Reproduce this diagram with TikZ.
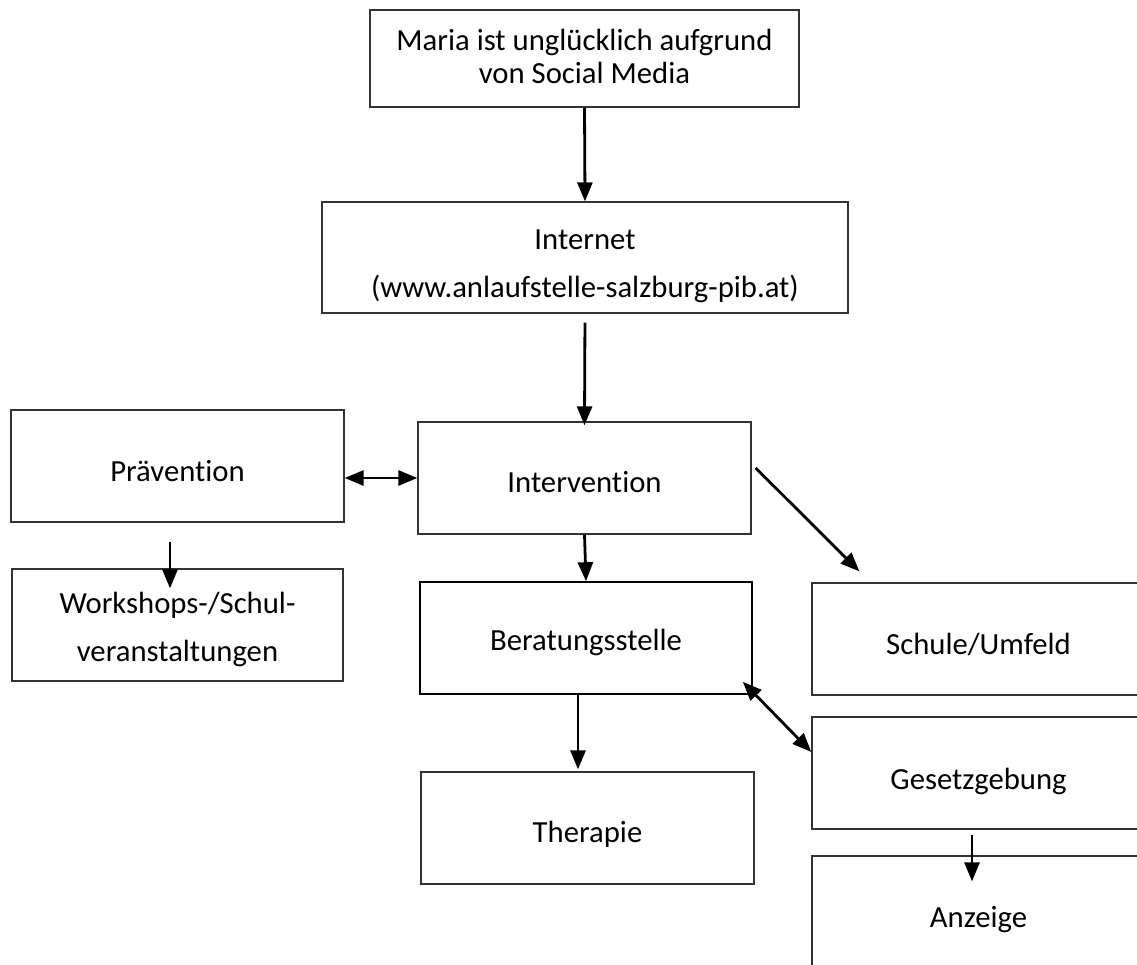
\documentclass[tikz,border=0pt]{standalone}
\usepackage{fontspec}
\setmainfont{Carlito}[Ligatures=NoCommon]
\usetikzlibrary{arrows.meta}
\newcommand\lowtxt[2]{\raisebox{-#1}[\height][\depth]{#2}}
\begin{document}
\begin{tikzpicture}[x=1pt,y=-1pt,
  box/.style={draw=black!80, line width=1.3pt, inner sep=0pt, align=center,
    font=\fontsize{30.7}{33}\selectfont, minimum width=333pt, minimum height=112pt},
  conn/.style={line width=2.8pt, -{Triangle[length=19pt,width=15pt]}},
  dconn/.style={line width=2.8pt, {Triangle[length=19pt,width=15pt]}-{Triangle[length=19pt,width=15pt]}}]
\useasboundingbox (0,0) rectangle (1137,965);
\clip (0,0) rectangle (1137,965);
% boxes
\node[box, minimum width=429pt, minimum height=97pt] (maria) at (584.5,58.5) {\lowtxt{1.5pt}{\begin{tabular}{@{}c@{}}Maria ist unglücklich aufgrund\\von Social Media\end{tabular}}};
\node[box, minimum width=526pt, minimum height=111pt] (inet) at (585,257.5) {\lowtxt{9pt}{\begin{tabular}{@{}c@{}}Internet\\[15pt](www.anlaufstelle-salzburg-pib.at)\end{tabular}}};
\node[box] (prev) at (177.5,466) {\lowtxt{5pt}{Prävention}};
\node[box, minimum width=331pt] (work) at (177.5,625) {\lowtxt{6pt}{\begin{tabular}{@{}c@{}}Workshops-/Schul-\\[15pt]veranstaltungen\end{tabular}}};
\node[box] (interv) at (584.5,478) {\lowtxt{4pt}{Intervention}};
\node[box, draw=black, line width=1.6pt, minimum width=332pt] (ber) at (586,638) {\lowtxt{4pt}{Beratungsstelle}};
\node[box] (ther) at (587.5,828) {\lowtxt{6pt}{Therapie}};
\node[box] (schule) at (978.5,639) {\lowtxt{5pt}{Schule/Umfeld}};
\node[box] (gesetz) at (978.5,773) {\lowtxt{8pt}{Gesetzgebung}};
\node[box] (anzeige) at (978.5,912) {\lowtxt{8pt}{Anzeige}};
% connectors
\draw[conn] (maria.south) -- (inet.north);
\draw[conn, shorten <=9pt, shorten >=-4pt] (inet.south) -- (interv.north);
\draw[dconn] (prev.east |- interv.west) -- (interv.west);
\draw[conn] (interv.south) -- (ber.north);
\draw[conn, shorten <=19pt, shorten >=-20pt] ([shift={(-7.5,0)}]prev.south) -- ([shift={(-7.5,0)}]work.north);
\draw[conn] ([shift={(4,-10)}]interv.east) -- ([shift={(48,-11)}]schule.north west);
\draw[dconn] ([shift={(-10,-13)}]ber.south east) -- ([shift={(0,-21)}]gesetz.west);
\draw[conn, shorten >=2pt] ([shift={(-8,0)}]ber.south) -- ([shift={(-9.5,0)}]ther.north);
\draw[conn, shorten <=5pt, shorten >=-26pt] ([shift={(-6.5,0)}]gesetz.south) -- ([shift={(-6.5,0)}]anzeige.north);
\end{tikzpicture}
\end{document}
